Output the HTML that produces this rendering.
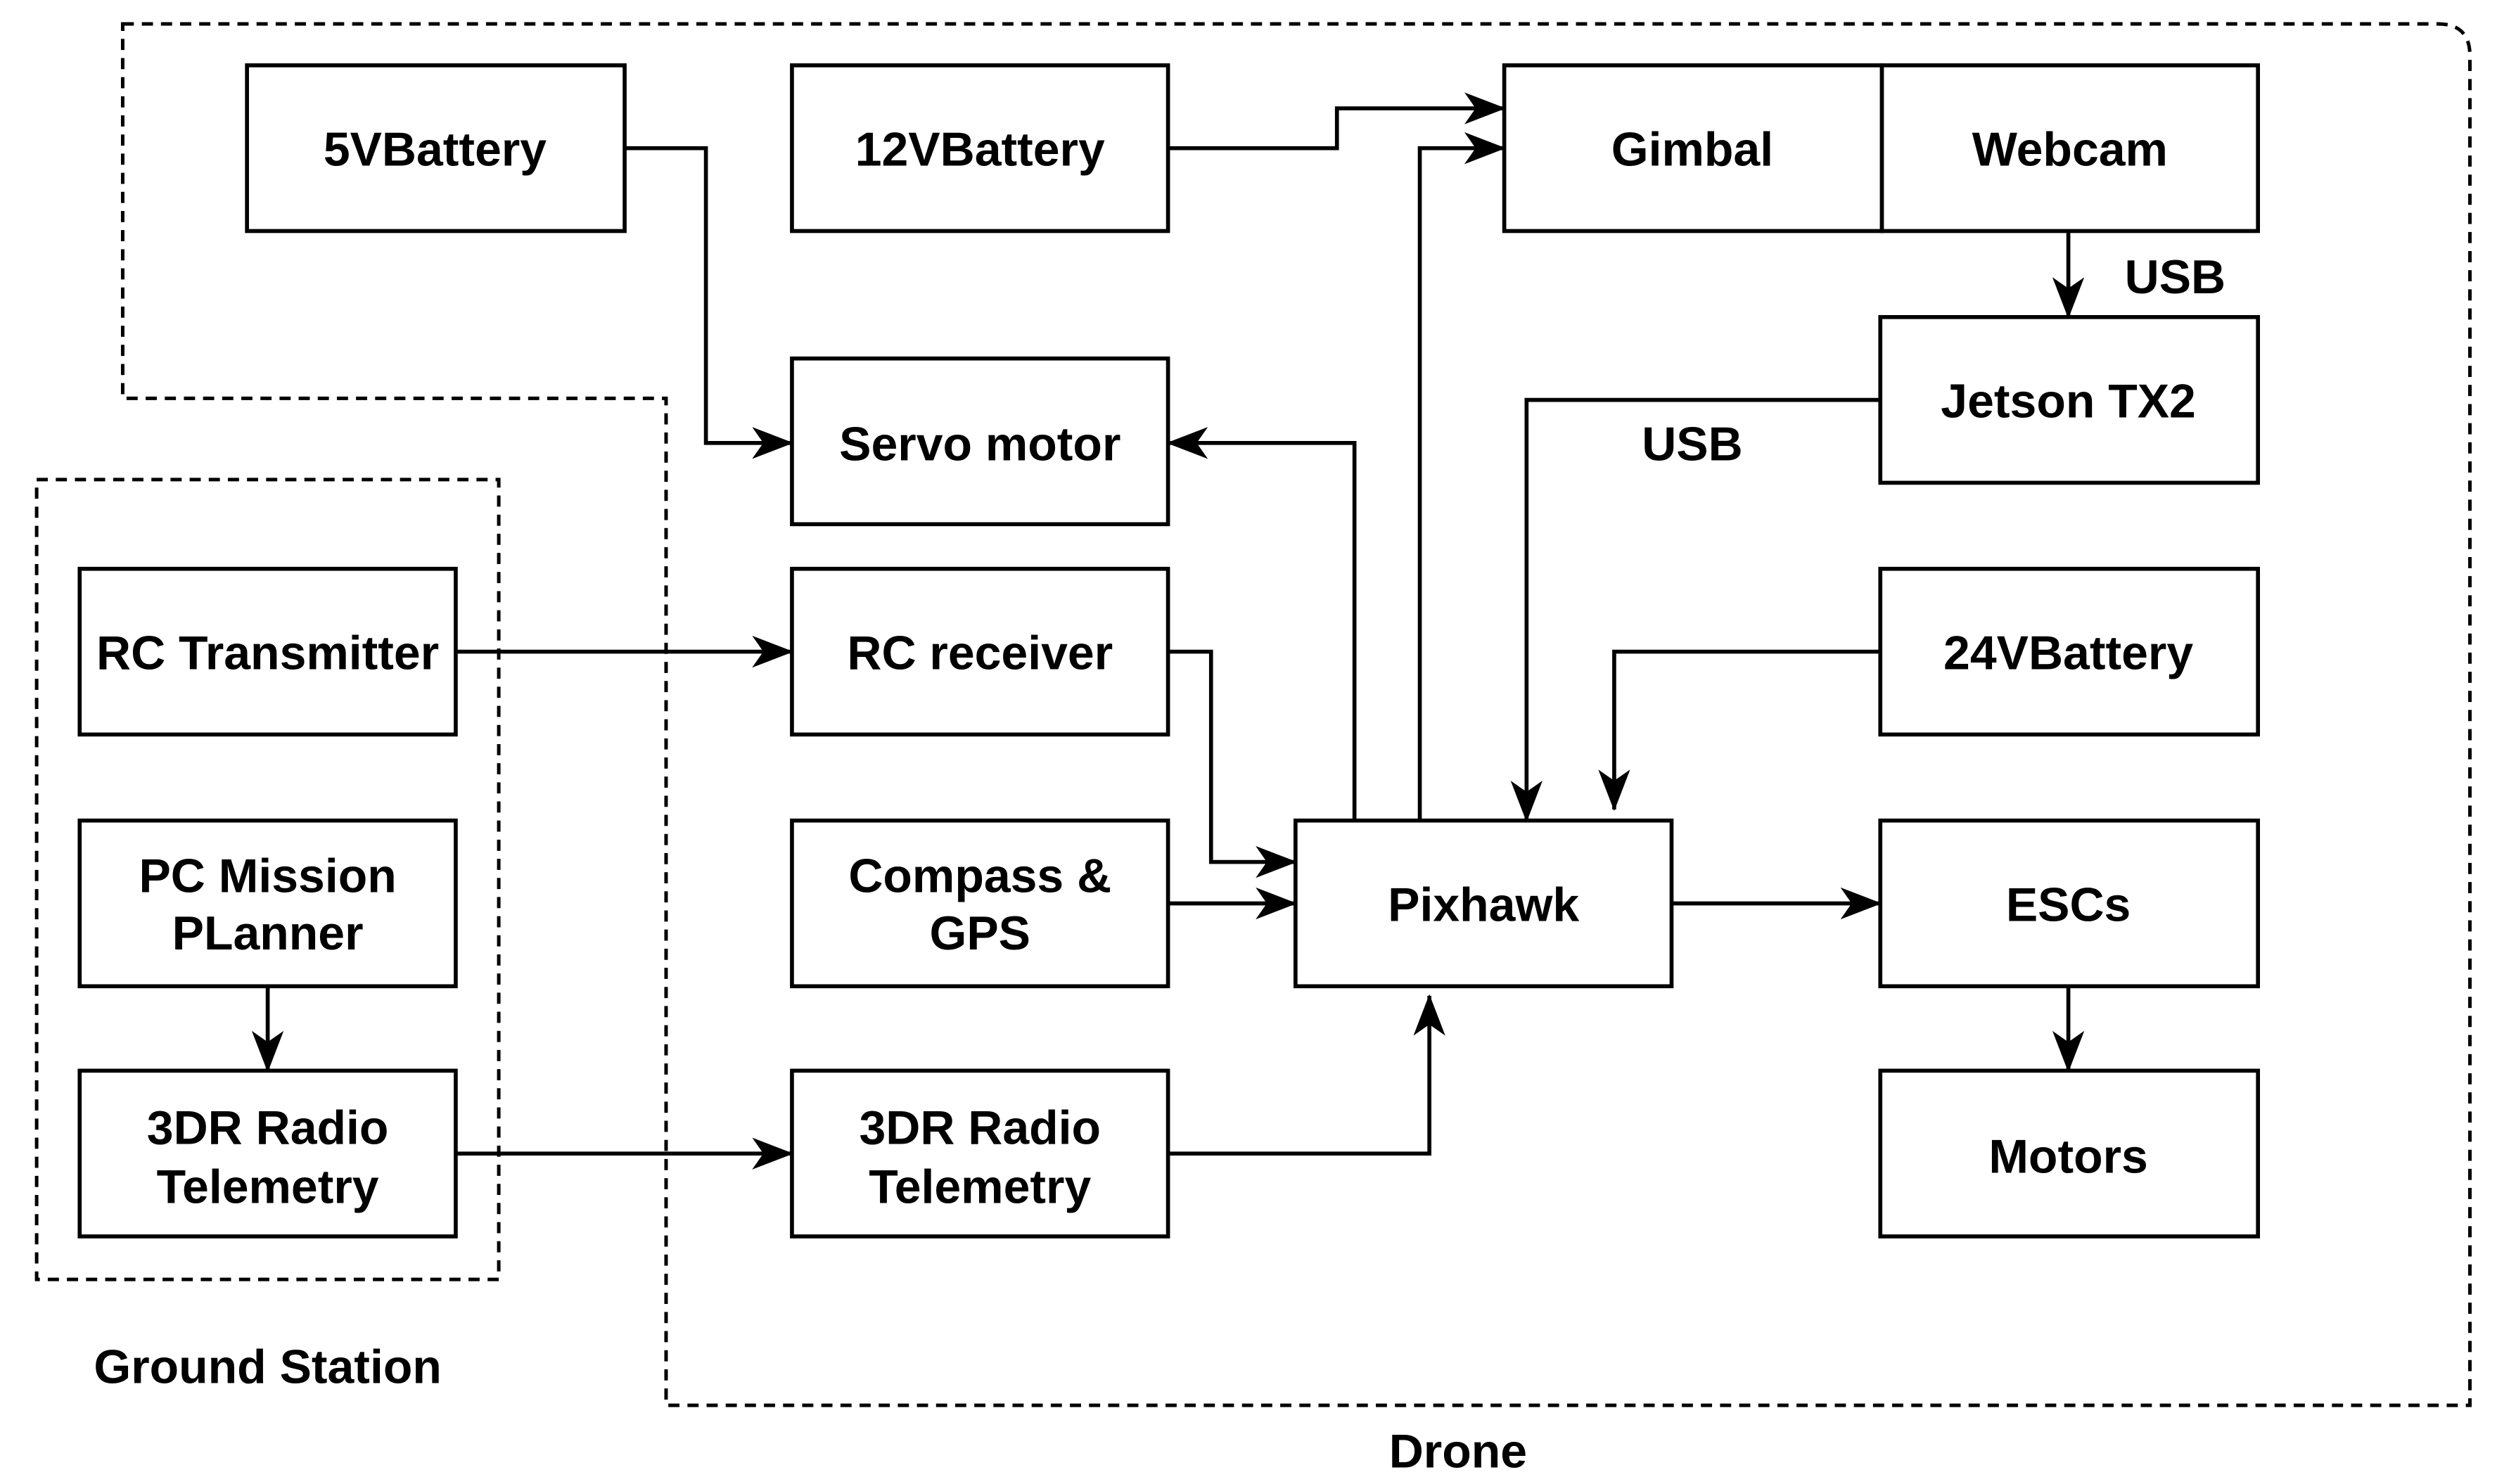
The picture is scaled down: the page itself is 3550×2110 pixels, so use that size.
<!DOCTYPE html>
<html><head><meta charset="utf-8"><style>
html,body{margin:0;padding:0;background:#fff;}
svg{display:block;}
text{font-family:"Liberation Sans",Arial,sans-serif;font-weight:bold;font-size:30px;fill:#000;text-anchor:middle;}
</style></head><body>
<svg width="3550" height="2110" viewBox="0 0 1567 931.4" preserveAspectRatio="none" xmlns="http://www.w3.org/2000/svg">
<defs>
<marker id="a" viewBox="0 0 26 20" refX="25" refY="10" markerWidth="26" markerHeight="20" markerUnits="userSpaceOnUse" orient="auto">
<path d="M0,0 L26,10 L0,20 L7,10 Z" fill="#000"/>
</marker>
</defs>
<g fill="none" stroke="#000" stroke-width="2.2" stroke-dasharray="7,5">
<path d="M77,15 L1530,15 Q1550,15 1550,35 L1550,882 L418,882 L418,250 L77,250 Z"/>
<rect x="23" y="301" width="290" height="502"/>
</g>
<g fill="#fff" stroke="#000" stroke-width="2.5">
<rect x="155" y="41" width="237" height="104"/>
<rect x="497" y="41" width="236" height="104"/>
<rect x="944" y="41" width="237" height="104"/>
<rect x="1181" y="41" width="236" height="104"/>
<rect x="1180" y="199" width="237" height="104"/>
<rect x="497" y="225" width="236" height="104"/>
<rect x="50" y="357" width="236" height="104"/>
<rect x="497" y="357" width="236" height="104"/>
<rect x="1180" y="357" width="237" height="104"/>
<rect x="50" y="515" width="236" height="104"/>
<rect x="497" y="515" width="236" height="104"/>
<rect x="813" y="515" width="236" height="104"/>
<rect x="1180" y="515" width="237" height="104"/>
<rect x="50" y="672" width="236" height="104"/>
<rect x="497" y="672" width="236" height="104"/>
<rect x="1180" y="672" width="237" height="104"/>
</g>
<g fill="none" stroke="#000" stroke-width="2.5" marker-end="url(#a)">
<path d="M392,93 H443 V278 H497"/>
<path d="M733,93 H839 V68 H944"/>
<path d="M891,515 V93 H944"/>
<path d="M850,515 V278 H733"/>
<path d="M1298,145 V199"/>
<path d="M1180,251 H958 V515"/>
<path d="M1180,409 H1013 V508"/>
<path d="M286,409 H497"/>
<path d="M733,409 H760 V541 H813"/>
<path d="M733,567 H813"/>
<path d="M733,724 H897 V625"/>
<path d="M1049,567 H1180"/>
<path d="M1298,619 V672"/>
<path d="M168,619 V672"/>
<path d="M286,724 H497"/>
</g>
<text x="273" y="104">5VBattery</text>
<text x="615" y="104">12VBattery</text>
<text x="1062" y="104">Gimbal</text>
<text x="1299" y="104">Webcam</text>
<text x="1365" y="184">USB</text>
<text x="1298" y="262">Jetson TX2</text>
<text x="1062" y="289">USB</text>
<text x="615" y="289">Servo motor</text>
<text x="168" y="420">RC Transmitter</text>
<text x="615" y="420">RC receiver</text>
<text x="1298" y="420">24VBattery</text>
<text x="168" y="560">PC Mission</text>
<text x="168" y="596">PLanner</text>
<text x="615" y="560">Compass &amp;</text>
<text x="615" y="596">GPS</text>
<text x="931" y="578">Pixhawk</text>
<text x="1298" y="578">ESCs</text>
<text x="168" y="718">3DR Radio</text>
<text x="168" y="755">Telemetry</text>
<text x="615" y="718">3DR Radio</text>
<text x="615" y="755">Telemetry</text>
<text x="1298" y="736">Motors</text>
<text x="168" y="868">Ground Station</text>
<text x="915" y="921">Drone</text>
</svg>
</body></html>
